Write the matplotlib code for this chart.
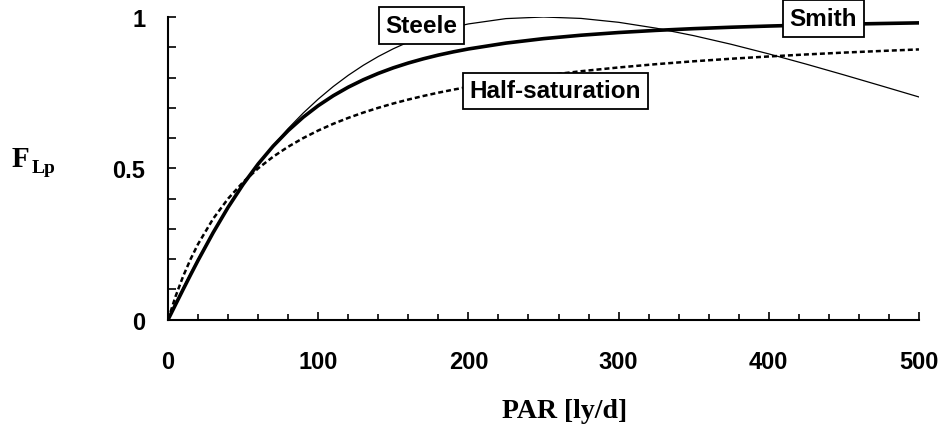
import matplotlib
matplotlib.use("Agg")
import matplotlib.pyplot as plt
from matplotlib.ticker import MultipleLocator

# PAR values (ly/d) and model curves
par = [0, 5, 10, 15, 20, 30, 40, 50, 60, 70, 80, 90, 100, 110, 120, 130, 140,
       150, 160, 170, 180, 190, 200, 225, 250, 275, 300, 325, 350, 375, 400,
       425, 450, 475, 500]
steele = [0.0, 0.0533, 0.1045, 0.1536, 0.2007, 0.2893, 0.3706, 0.4451, 0.5132,
          0.5752, 0.6316, 0.6827, 0.7288, 0.7703, 0.8074, 0.8404, 0.8695,
          0.8951, 0.9173, 0.9364, 0.9526, 0.9661, 0.9771, 0.9947, 1.0,
          0.9953, 0.9825, 0.9631, 0.9384, 0.9098, 0.8781, 0.8442, 0.8088,
          0.7725, 0.7358]
smith = [0.0, 0.0499, 0.0995, 0.1483, 0.1961, 0.2873, 0.3714, 0.4472, 0.5145,
         0.5735, 0.6247, 0.6690, 0.7071, 0.7399, 0.7682, 0.7926, 0.8137,
         0.8321, 0.8480, 0.8619, 0.8742, 0.8849, 0.8944, 0.9138, 0.9285,
         0.9398, 0.9487, 0.9558, 0.9615, 0.9662, 0.9701, 0.9734, 0.9762,
         0.9785, 0.9806]
half_sat = [0.0, 0.0769, 0.1429, 0.2, 0.25, 0.3333, 0.4, 0.4545, 0.5, 0.5385,
            0.5714, 0.6, 0.625, 0.6471, 0.6667, 0.6842, 0.7, 0.7143, 0.7273,
            0.7391, 0.75, 0.76, 0.7692, 0.7895, 0.8065, 0.8209, 0.8333,
            0.8442, 0.8537, 0.8621, 0.8696, 0.8763, 0.8824, 0.8878, 0.8929]

labels = ["Steele", "Smith", "Half-saturation"]
label_pos = [(168.8, 0.972), (436.4, 0.995), (257.7, 0.756)]

x_ticks = [0, 100, 200, 300, 400, 500]
y_ticks = [0, 0.5, 1]
y_tick_labels = ["0", "0.5", "1"]

fig = plt.figure(figsize=(9.43, 4.39), dpi=100)
ax = fig.add_axes([0.1782, 0.2695, 0.9745 - 0.1782, 0.959 - 0.2695])

ax.plot(par, steele, color="black", lw=0.9, zorder=3)
ax.plot(par, smith, color="black", lw=2.6, zorder=3)
ax.plot(par, half_sat, color="black", lw=1.8, linestyle=(0, (2, 1.2)), zorder=3)

for txt, (lx, ly) in zip(labels, label_pos):
    ax.text(lx, ly, txt, ha="center", va="center", fontsize=17.5,
            fontfamily="Liberation Sans", fontweight="bold", zorder=5,
            bbox=dict(boxstyle="square,pad=0.28", fc="white", ec="black", lw=1.3))

ax.set_xlim(0, 500)
ax.set_ylim(0, 1)
ax.set_xticks(x_ticks)
ax.set_yticks(y_ticks)
ax.set_yticklabels(y_tick_labels)
ax.xaxis.set_minor_locator(MultipleLocator(20))
ax.yaxis.set_minor_locator(MultipleLocator(0.1))

for s in ["top", "right"]:
    ax.spines[s].set_visible(False)
for s in ["left", "bottom"]:
    ax.spines[s].set_linewidth(1.5)

ax.tick_params(axis="x", which="major", direction="in", length=6, width=1.2, pad=22)
ax.tick_params(axis="x", which="minor", direction="in", length=4.5, width=1.2)
ax.tick_params(axis="y", which="major", direction="in", length=5.5, width=1.2, pad=16.5)
ax.tick_params(axis="y", which="minor", direction="in", length=5.5, width=1.2)
for lab in ax.get_xticklabels() + ax.get_yticklabels():
    lab.set_fontfamily("Liberation Sans")
    lab.set_fontweight("bold")
    lab.set_fontsize(17)

fig.text(12 / 943, (439 - 167) / 439, "F", fontfamily="Liberation Serif",
         fontweight="bold", fontsize=21, va="baseline", ha="left")
fig.text(32 / 943, (439 - 173) / 439, "Lp", fontfamily="Liberation Serif",
         fontweight="bold", fontsize=14, va="baseline", ha="left")
fig.text(565 / 943, (439 - 418) / 439, "PAR [ly/d]", fontfamily="Liberation Serif",
         fontweight="bold", fontsize=20, va="baseline", ha="center")

fig.savefig("out.png", dpi=100)
